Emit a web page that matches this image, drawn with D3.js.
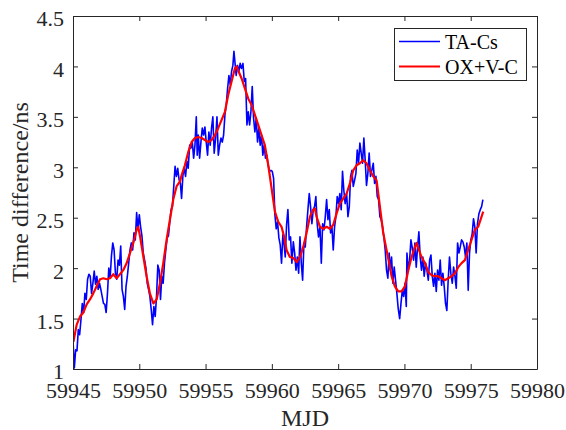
<!DOCTYPE html>
<html>
<head>
<meta charset="utf-8">
<script src="https://cdn.jsdelivr.net/npm/d3@7"></script>
<style>
  html, body { margin: 0; padding: 0; background: #fff; }
  svg { display: block; }
  svg text { font-family: "Liberation Serif", "Tinos", "Times New Roman", Times, "DejaVu Serif", serif; }
</style>
</head>
<body>
<svg id="chart" width="566" height="430"></svg>
<script>
// ---- data ----
const mjdBase = 59945;
const xTicks = [59945, 59950, 59955, 59960, 59965, 59970, 59975, 59980];
const yTicks = [1, 1.5, 2, 2.5, 3, 3.5, 4, 4.5];
const seriesNames = ["TA-Cs", "OX+V-C"];

// TA-Cs: day offset from mjdBase
const taCsDay = [
  0.0,0.1,0.2,0.3,0.4,0.5,0.6,0.7,0.8,0.9,1.0,1.1,1.2,1.3,1.4,1.5,1.6,1.7,1.8,1.9,
  2.0,2.1,2.2,2.3,2.4,2.5,2.6,2.7,2.8,2.9,3.0,3.1,3.2,3.3,3.4,3.5,3.6,3.7,3.8,3.9,
  4.0,4.1,4.2,4.3,4.4,4.5,4.6,4.7,4.8,4.9,5.0,5.1,5.2,5.3,5.4,5.5,5.6,5.7,5.8,5.9,
  6.0,6.1,6.2,6.3,6.4,6.5,6.6,6.7,6.8,6.9,7.0,7.1,7.2,7.3,7.4,7.5,7.6,7.7,7.8,7.9,
  8.0,8.1,
  8.19,8.29,8.39,8.49,8.59,8.69,8.80,8.90,9.00,9.10,9.20,9.30,9.37,9.45,9.55,9.65,9.75,9.85,9.95,
  10.05,10.15,10.25,10.35,10.45,10.55,10.65,10.76,10.86,10.96,11.06,11.16,11.26,11.36,11.46,11.56,11.66,11.76,11.86,11.96,
  12.06,12.14,12.21,12.31,12.41,12.51,12.61,12.71,12.82,12.92,13.02,13.12,13.22,13.32,13.42,13.52,13.62,13.72,13.82,13.92,
  14.02,14.12,14.22,14.32,14.42,14.52,14.62,14.72,14.83,14.93,15.03,15.13,15.23,15.33,15.43,15.53,15.63,15.73,15.83,15.93,
  16.01,16.11,16.21,16.31,16.41,16.51,16.62,16.72,16.82,16.92,17.02,17.12,17.22,17.32,17.42,17.52,17.62,17.72,17.82,17.92,
  18.02,18.12,18.22,18.32,18.42,18.52,18.63,18.73,18.83,18.93,19.03,19.13,19.23,19.33,19.43,19.53,19.63,19.73,19.83,19.93,
  20.03,20.13,20.23,20.33,20.43,20.53,20.64,20.74,20.84,20.94,21.04,21.14,21.24,21.34,21.44,21.54,21.64,21.74,21.84,21.94,
  22.04,22.14,22.24,22.34,22.44,22.54,22.65,22.75,22.85,22.95,23.05,23.15,23.25,23.35,23.45,23.55,23.65,23.75,23.85,
  23.93,24.03,24.13,24.23,24.33,24.43,24.53,24.64,24.74,24.84,24.94,25.04,25.14,25.19,25.29,25.39,25.49,25.59,25.69,25.79,25.89,25.99,
  26.09,26.19,26.29,26.39,26.49,26.60,26.70,26.80,26.90,27.00,27.10,27.20,27.30,27.40,27.50,27.60,27.70,27.80,27.90,
  28.00,28.10,28.20,28.30,28.40,28.50,28.61,28.71,28.81,28.91,29.01,29.11,29.21,29.31,29.41,29.51,29.61,29.71,29.81,29.91,
  30.01,30.11,30.21,30.31,30.41,30.51,30.62,30.72,30.82,30.92
];
const taCsValue = [
  1.29,1.01,1.19,1.18,1.39,1.34,1.49,1.65,1.56,1.75,1.69,1.89,1.94,1.92,1.75,1.85,1.97,1.84,1.92,1.79,
  1.85,1.79,1.72,1.65,1.64,1.56,1.75,2.00,1.90,2.12,2.25,2.18,1.95,1.89,2.08,2.03,2.22,1.79,1.72,1.59,
  1.82,1.92,2.05,2.18,2.25,2.18,2.35,2.28,2.55,2.38,2.53,2.41,2.32,2.15,2.08,2.00,1.85,1.79,1.72,1.59,
  1.44,1.62,1.52,1.72,2.03,1.98,1.69,1.92,1.85,2.05,2.18,2.30,2.32,2.46,2.58,2.61,2.81,3.01,2.91,2.99,
  2.88,2.84,
  2.69,2.92,2.99,2.91,3.06,2.99,3.22,3.19,3.25,3.09,3.22,3.50,3.12,3.32,3.09,3.25,3.39,3.32,3.40,
  3.25,3.12,3.35,3.22,3.39,3.50,3.14,3.29,3.50,3.12,3.22,3.29,3.25,3.32,3.52,3.62,3.78,3.91,3.82,3.95,
  4.01,4.15,4.05,3.91,4.01,3.95,4.03,3.98,4.03,3.85,3.88,3.42,3.55,3.42,3.55,3.80,3.49,3.35,3.49,3.25,
  3.39,3.22,3.32,3.12,3.22,3.09,3.12,3.02,2.96,2.97,2.96,2.89,2.53,2.39,2.46,2.30,2.23,2.05,2.33,2.23,
  2.11,2.43,2.58,2.28,2.31,2.05,2.26,2.15,1.98,2.11,1.95,2.31,2.05,1.88,2.25,2.21,2.41,2.58,2.74,2.61,
  2.44,2.58,2.61,2.71,2.44,2.31,2.41,2.05,2.44,2.38,2.51,2.68,2.48,2.58,2.35,2.41,2.18,2.41,2.51,2.71,
  2.64,2.74,2.58,2.96,2.77,2.64,2.74,2.51,2.61,2.91,2.97,2.81,2.87,2.94,3.17,3.04,3.24,3.14,3.04,3.29,
  3.07,2.82,2.94,3.14,2.91,2.97,3.04,2.84,2.91,2.71,2.68,2.51,2.48,2.41,2.31,2.18,1.98,1.90,2.15,
  1.98,2.11,1.85,2.01,1.88,1.75,1.60,1.50,1.65,1.78,1.72,1.85,1.62,2.15,1.98,2.08,2.28,2.20,2.08,2.25,2.01,2.21,
  2.36,2.11,1.98,2.11,1.92,2.05,1.98,1.88,2.08,2.13,1.92,1.82,1.95,1.77,1.98,1.88,2.08,1.83,1.95,
  1.82,1.65,1.58,1.88,2.11,1.95,1.85,2.01,1.92,1.80,2.25,2.15,2.21,2.28,2.26,2.21,2.11,2.25,1.78,2.15,
  2.28,2.34,2.49,2.41,2.15,2.44,2.54,2.58,2.61,2.68
];

// OX+V-C: day offset from mjdBase
const oxDay = [
  0.03,0.28,0.53,0.78,1.03,1.28,1.53,1.78,2.04,2.29,2.54,2.79,3.04,3.29,3.54,3.79,4.05,4.30,4.55,4.80,4.92,
  5.05,5.30,5.55,5.80,6.06,6.31,6.56,6.81,7.06,7.31,7.56,7.81,8.07,
  8.19,8.44,8.69,8.95,9.20,9.45,9.70,9.95,10.20,10.45,10.71,10.96,11.21,11.46,11.71,11.96,12.21,12.34,12.46,
  12.72,12.97,13.22,13.47,13.72,13.97,14.22,14.47,14.73,14.98,15.23,15.48,15.73,15.93,
  16.11,16.36,16.62,16.87,17.12,17.37,17.62,17.87,18.12,18.25,18.37,18.63,18.88,19.13,19.38,19.63,19.88,
  20.13,20.38,20.64,20.89,21.14,21.39,21.64,21.89,22.14,22.39,22.65,22.90,23.15,23.40,23.65,23.85,
  24.03,24.28,24.53,24.79,25.04,25.29,25.54,25.79,25.92,26.04,26.29,26.55,26.80,27.05,27.30,27.55,27.80,
  28.05,28.30,28.56,28.81,29.06,29.31,29.56,29.81,30.06,30.31,30.56,30.82,30.94
];
const oxValue = [
  1.27,1.44,1.52,1.56,1.64,1.69,1.75,1.82,1.89,1.90,1.89,1.90,1.94,1.90,1.94,1.98,2.05,2.15,2.25,2.38,2.41,
  2.32,2.12,1.92,1.75,1.65,1.69,1.85,2.05,2.28,2.48,2.68,2.81,2.86,
  2.92,3.02,3.15,3.25,3.29,3.30,3.29,3.27,3.25,3.27,3.32,3.39,3.47,3.55,3.72,3.85,3.98,4.00,3.96,
  3.88,3.78,3.68,3.62,3.52,3.42,3.32,3.22,3.02,2.79,2.56,2.46,2.41,2.31,
  2.18,2.11,2.10,2.06,2.11,2.21,2.35,2.51,2.58,2.59,2.51,2.41,2.39,2.41,2.39,2.43,2.54,
  2.64,2.69,2.74,2.84,2.97,3.02,3.04,3.07,3.04,2.97,2.91,2.87,2.61,2.35,2.18,2.05,
  1.92,1.82,1.77,1.77,1.82,1.98,2.11,2.21,2.25,2.20,2.11,2.05,1.96,1.93,1.92,1.92,1.90,
  1.88,1.90,1.92,1.95,2.01,2.05,2.08,2.18,2.28,2.38,2.41,2.51,2.56
];

// ---- layout ----
const FONT = '"Liberation Serif", "Tinos", "Times New Roman", Times, "DejaVu Serif", serif';
const svg = d3.select("#chart").attr("font-family", FONT);
const W = 566, H = 430;
const margin = { left: 73, top: 16, right: 29, bottom: 61 };
const innerW = W - margin.left - margin.right;   // 464
const innerH = H - margin.top - margin.bottom;   // 353
const axisColor = "#262626";
const fontTick = 22, fontLabel = 24, fontLegend = 20;

const x = d3.scaleLinear().domain([59945, 59980]).range([margin.left, margin.left + innerW]);
const y = d3.scaleLinear().domain([1, 4.5]).range([margin.top + innerH, margin.top]);

const taCs = taCsDay.map((d, i) => ({ x: mjdBase + d, y: taCsValue[i] }));
const ox = oxDay.map((d, i) => ({ x: mjdBase + d, y: oxValue[i] }));

const line = d3.line().x(d => x(d.x)).y(d => y(d.y));

svg.append("defs").append("clipPath").attr("id", "plotclip")
  .append("rect").attr("x", margin.left).attr("y", margin.top)
  .attr("width", innerW).attr("height", innerH);

const plot = svg.append("g").attr("clip-path", "url(#plotclip)");
plot.append("path").datum(taCs).attr("d", line)
  .attr("fill", "none").attr("stroke", "#0000ff").attr("stroke-width", 1.6)
  .attr("stroke-linejoin", "round");
plot.append("path").datum(ox).attr("d", line)
  .attr("fill", "none").attr("stroke", "#ff0000").attr("stroke-width", 2.2)
  .attr("stroke-linejoin", "round");

// ---- axes (MATLAB style, ticks inward on all sides) ----
const tickLen = 5;
const xB = d3.axisBottom(x).tickValues(xTicks).tickSizeInner(-tickLen).tickSizeOuter(0).tickPadding(13).tickFormat(d3.format("d"));
const xT = d3.axisTop(x).tickValues(xTicks).tickSizeInner(-tickLen).tickSizeOuter(0).tickFormat("");
const yL = d3.axisLeft(y).tickValues(yTicks).tickSizeInner(-tickLen).tickSizeOuter(0).tickPadding(9).tickFormat(d3.format("~g"));
const yR = d3.axisRight(y).tickValues(yTicks).tickSizeInner(-tickLen).tickSizeOuter(0).tickFormat("");

function style(g) {
  g.attr("font-family", FONT);
  g.select(".domain").attr("stroke", axisColor).attr("stroke-width", 1);
  g.selectAll(".tick line").attr("stroke", axisColor).attr("stroke-width", 1);
  g.selectAll(".tick text").attr("fill", axisColor).attr("font-family", FONT);
}

const gxB = svg.append("g").attr("transform", `translate(0,${margin.top + innerH})`).call(xB).call(style);
gxB.selectAll(".tick text").attr("font-size", fontTick).attr("dy", "0.71em");
svg.append("g").attr("transform", `translate(0,${margin.top})`).call(xT).call(style);
const gyL = svg.append("g").attr("transform", `translate(${margin.left},0)`).call(yL).call(style);
gyL.selectAll(".tick text").attr("font-size", fontTick).attr("dy", "0.45em");
svg.append("g").attr("transform", `translate(${margin.left + innerW},0)`).call(yR).call(style);

// axis labels
svg.append("text")
  .attr("x", margin.left + innerW / 2).attr("y", 426)
  .attr("text-anchor", "middle").attr("font-size", fontLabel).attr("fill", axisColor)
  .attr("font-family", FONT)
  .text("MJD");
svg.append("text")
  .attr("transform", `translate(28,${margin.top + innerH / 2}) rotate(-90)`)
  .attr("text-anchor", "middle").attr("font-size", fontLabel).attr("fill", axisColor)
  .attr("font-family", FONT)
  .text("Time difference/ns");

// ---- legend ----
const lg = svg.append("g").attr("transform", "translate(394,28)");
lg.append("rect").attr("x", 0.5).attr("y", 0.5).attr("width", 132).attr("height", 52)
  .attr("fill", "#fff").attr("stroke", axisColor).attr("stroke-width", 1);
const colors = ["#0000ff", "#ff0000"];
const widths = [1.6, 2.2];
seriesNames.forEach((name, i) => {
  const cy = 13.5 + i * 25;
  lg.append("line").attr("x1", 5).attr("x2", 46).attr("y1", cy).attr("y2", cy)
    .attr("stroke", colors[i]).attr("stroke-width", widths[i]);
  lg.append("text").attr("x", 51).attr("y", cy + 7.5)
    .attr("font-size", fontLegend).attr("fill", "#000").attr("font-family", FONT).text(name);
});
</script>
</body>
</html>
